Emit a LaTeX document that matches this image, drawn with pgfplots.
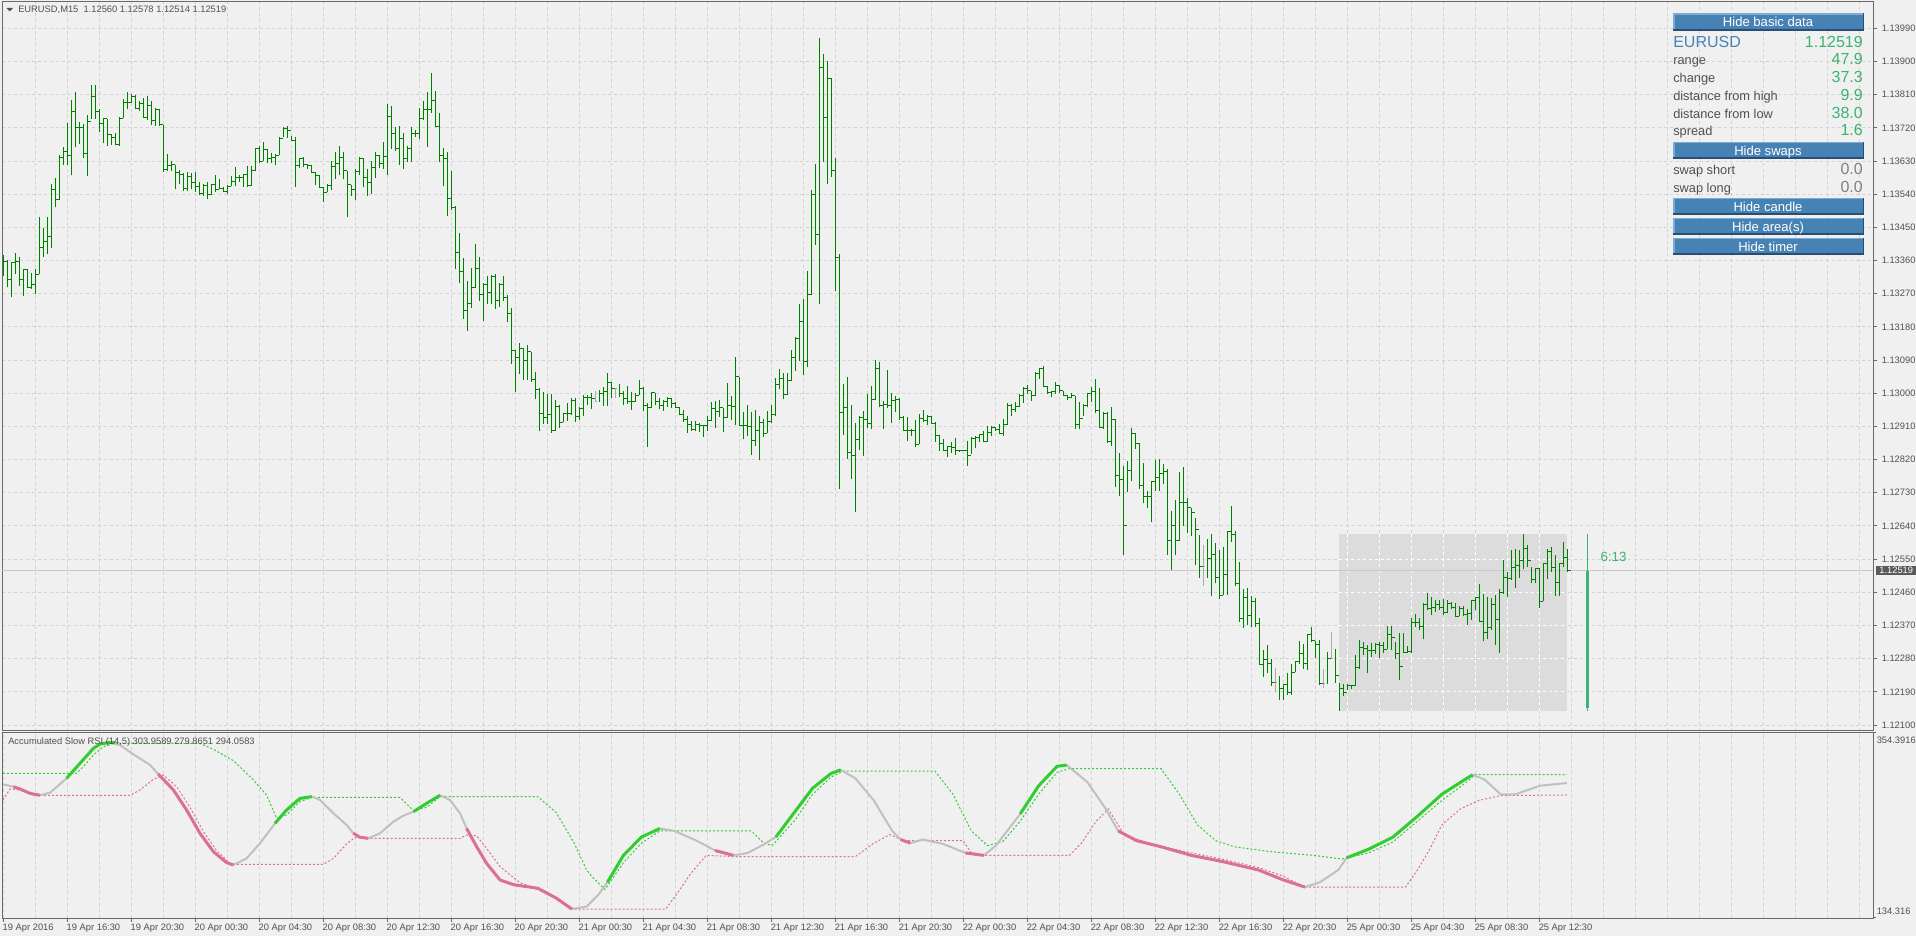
\documentclass[border=0pt]{standalone}
\usepackage{fontspec}
\setmainfont{Liberation Sans}
\usepackage{pgfplots}
\usepackage{pgfplotstable}
\pgfplotsset{compat=1.18}

\definecolor{bg}{RGB}{240,240,240}
\definecolor{gridc}{RGB}{210,210,210}
\definecolor{framec}{RGB}{105,105,105}
\definecolor{barc}{RGB}{0,128,0}
\definecolor{dojic}{RGB}{170,170,170}
\definecolor{txt}{RGB}{80,80,80}
\definecolor{upc}{RGB}{50,205,50}
\definecolor{dnc}{RGB}{219,112,147}
\definecolor{flatc}{RGB}{192,192,192}
\definecolor{btnc}{RGB}{70,130,180}
\definecolor{btnlt}{RGB}{125,170,215}
\definecolor{btndk}{RGB}{40,78,115}
\definecolor{valc}{RGB}{60,179,113}
\definecolor{areac}{RGB}{220,220,220}
\definecolor{pricel}{RGB}{200,200,200}
\definecolor{tagc}{RGB}{90,90,90}

\newcommand\lbl{\fontsize{7}{8.4}\selectfont}
\pgfdeclareplotmark{rtick}{\pgfpathmoveto{\pgfpointorigin}\pgfpathlineto{\pgfpoint{1.4pt}{0pt}}\pgfusepathqstroke}
\pgfdeclareplotmark{ltick}{\pgfpathmoveto{\pgfpointorigin}\pgfpathlineto{\pgfpoint{-1.4pt}{0pt}}\pgfusepathqstroke}

% EURUSD M15 bars: index, high, low, close
\pgfplotstableread{
i h l c
0 1.13374 1.13319 1.13357
1 1.13362 1.13287 1.13308
2 1.13354 1.13262 1.13354
3 1.13381 1.13324 1.13358
4 1.13369 1.13292 1.13308
5 1.13335 1.13265 1.13335
6 1.13338 1.13285 1.13288
7 1.13327 1.13283 1.13295
8 1.13338 1.13270 1.13323
9 1.13479 1.13323 1.13396
10 1.13449 1.13369 1.13412
11 1.13479 1.13377 1.13426
12 1.13568 1.13395 1.13554
13 1.13584 1.13504 1.13526
14 1.13647 1.13523 1.13639
15 1.13668 1.13620 1.13656
16 1.13734 1.13620 1.13646
17 1.13796 1.13591 1.13765
18 1.13817 1.13668 1.13720
19 1.13737 1.13677 1.13721
20 1.13731 1.13639 1.13651
21 1.13756 1.13588 1.13737
22 1.13835 1.13744 1.13806
23 1.13837 1.13744 1.13765
24 1.13770 1.13710 1.13733
25 1.13747 1.13679 1.13744
26 1.13744 1.13670 1.13701
27 1.13704 1.13674 1.13694
28 1.13706 1.13673 1.13675
29 1.13749 1.13672 1.13746
30 1.13799 1.13746 1.13788
31 1.13817 1.13771 1.13790
32 1.13812 1.13788 1.13806
33 1.13808 1.13771 1.13773
34 1.13794 1.13767 1.13785
35 1.13800 1.13746 1.13749
36 1.13806 1.13742 1.13780
37 1.13793 1.13728 1.13740
38 1.13773 1.13726 1.13770
39 1.13771 1.13726 1.13728
40 1.13728 1.13600 1.13607
41 1.13649 1.13604 1.13618
42 1.13631 1.13604 1.13621
43 1.13620 1.13553 1.13598
44 1.13606 1.13568 1.13594
45 1.13598 1.13550 1.13556
46 1.13600 1.13550 1.13589
47 1.13598 1.13553 1.13571
48 1.13600 1.13547 1.13560
49 1.13574 1.13537 1.13541
50 1.13568 1.13534 1.13564
51 1.13573 1.13526 1.13539
52 1.13569 1.13537 1.13565
53 1.13592 1.13547 1.13554
54 1.13582 1.13553 1.13556
55 1.13559 1.13545 1.13548
56 1.13564 1.13540 1.13562
57 1.13589 1.13561 1.13574
58 1.13613 1.13562 1.13586
59 1.13591 1.13574 1.13584
60 1.13594 1.13560 1.13594
61 1.13616 1.13560 1.13564
62 1.13616 1.13561 1.13603
63 1.13665 1.13603 1.13665
64 1.13670 1.13625 1.13630
65 1.13681 1.13630 1.13660
66 1.13663 1.13625 1.13636
67 1.13651 1.13625 1.13639
68 1.13649 1.13618 1.13645
69 1.13694 1.13645 1.13692
70 1.13722 1.13694 1.13717
71 1.13726 1.13692 1.13713
72 1.13697 1.13686 1.13687
73 1.13696 1.13559 1.13618
74 1.13638 1.13611 1.13636
75 1.13642 1.13613 1.13620
76 1.13622 1.13609 1.13618
77 1.13620 1.13600 1.13600
78 1.13600 1.13566 1.13591
79 1.13592 1.13559 1.13559
80 1.13560 1.13520 1.13545
81 1.13569 1.13545 1.13564
82 1.13629 1.13552 1.13615
83 1.13654 1.13582 1.13624
84 1.13670 1.13591 1.13639
85 1.13654 1.13580 1.13604
86 1.13602 1.13477 1.13565
87 1.13565 1.13535 1.13552
88 1.13609 1.13523 1.13602
89 1.13642 1.13591 1.13636
90 1.13639 1.13559 1.13586
91 1.13609 1.13535 1.13573
92 1.13631 1.13541 1.13612
93 1.13654 1.13583 1.13645
94 1.13645 1.13612 1.13622
95 1.13681 1.13609 1.13642
96 1.13785 1.13592 1.13752
97 1.13779 1.13663 1.13704
98 1.13722 1.13658 1.13663
99 1.13726 1.13620 1.13690
100 1.13706 1.13607 1.13636
101 1.13672 1.13627 1.13665
102 1.13722 1.13627 1.13705
103 1.13713 1.13696 1.13704
104 1.13773 1.13690 1.13746
105 1.13792 1.13742 1.13770
106 1.13818 1.13669 1.13771
107 1.13869 1.13761 1.13794
108 1.13819 1.13722 1.13724
109 1.13761 1.13627 1.13645
110 1.13666 1.13561 1.13638
111 1.13654 1.13480 1.13527
112 1.13604 1.13496 1.13505
113 1.13509 1.13336 1.13381
114 1.13434 1.13298 1.13330
115 1.13366 1.13202 1.13224
116 1.13305 1.13169 1.13243
117 1.13339 1.13230 1.13286
118 1.13404 1.13286 1.13339
119 1.13369 1.13250 1.13267
120 1.13298 1.13196 1.13294
121 1.13319 1.13242 1.13273
122 1.13321 1.13242 1.13318
123 1.13323 1.13229 1.13251
124 1.13300 1.13234 1.13294
125 1.13319 1.13250 1.13261
126 1.13267 1.13192 1.13215
127 1.13230 1.13079 1.13116
128 1.13117 1.13004 1.13097
129 1.13135 1.13052 1.13122
130 1.13122 1.13036 1.13090
131 1.13131 1.13036 1.13113
132 1.13113 1.13030 1.13038
133 1.13057 1.12985 1.13011
134 1.13013 1.12898 1.12945
135 1.13004 1.12917 1.12935
136 1.12997 1.12917 1.12943
137 1.12997 1.12893 1.12899
138 1.12981 1.12898 1.12965
139 1.12968 1.12905 1.12920
140 1.12945 1.12923 1.12944
141 1.12973 1.12925 1.12946
142 1.12986 1.12941 1.12979
143 1.12986 1.12923 1.12936
144 1.12964 1.12928 1.12959
145 1.12994 1.12938 1.12988
146 1.12995 1.12968 1.12988
147 1.13000 1.12956 1.12986
149 1.13010 1.12977 1.13000
150 1.13016 1.12966 1.13004
151 1.13054 1.12966 1.13029
152 1.13030 1.12988 1.13012
154 1.13026 1.12989 1.13000
155 1.13006 1.12968 1.12986
156 1.13021 1.12970 1.12977
157 1.13004 1.12955 1.12977
158 1.13002 1.12977 1.12994
159 1.13035 1.12994 1.13013
160 1.13018 1.12953 1.12966
161 1.12973 1.12854 1.12961
162 1.13003 1.12961 1.13003
163 1.13002 1.12968 1.12977
164 1.12988 1.12957 1.12968
165 1.12982 1.12953 1.12977
166 1.12991 1.12964 1.12986
167 1.12988 1.12961 1.12973
168 1.12977 1.12961 1.12962
169 1.12964 1.12941 1.12943
170 1.12955 1.12921 1.12928
171 1.12937 1.12893 1.12914
172 1.12926 1.12898 1.12903
173 1.12925 1.12898 1.12916
174 1.12919 1.12896 1.12912
175 1.12914 1.12882 1.12912
176 1.12939 1.12898 1.12925
177 1.12975 1.12925 1.12959
178 1.12980 1.12907 1.12950
179 1.12982 1.12936 1.12961
180 1.12961 1.12896 1.12935
181 1.13027 1.12932 1.12968
182 1.12993 1.12928 1.12964
183 1.13097 1.12914 1.13045
184 1.13045 1.12912 1.12912
185 1.12950 1.12876 1.12912
186 1.12968 1.12885 1.12911
187 1.12950 1.12833 1.12873
188 1.12954 1.12858 1.12899
189 1.12937 1.12819 1.12920
190 1.12929 1.12880 1.12891
191 1.12953 1.12891 1.12923
192 1.12968 1.12920 1.12941
193 1.13041 1.12938 1.13025
194 1.13065 1.13011 1.13039
195 1.13056 1.12985 1.12997
196 1.13056 1.12995 1.13034
197 1.13118 1.13033 1.13097
198 1.13152 1.13061 1.13149
199 1.13241 1.13088 1.13196
200 1.13255 1.13050 1.13086
201 1.13331 1.13070 1.13269
202 1.13551 1.13267 1.13538
203 1.13622 1.13403 1.13430
204 1.13963 1.13242 1.13884
205 1.13920 1.13628 1.13748
206 1.13900 1.13567 1.13854
207 1.13854 1.13587 1.13604
208 1.13638 1.13278 1.13367
209 1.13379 1.12740 1.12948
210 1.13025 1.12888 1.12960
211 1.13043 1.12822 1.12838
212 1.12968 1.12767 1.12832
213 1.12919 1.12678 1.12874
214 1.12937 1.12847 1.12935
215 1.12951 1.12831 1.12930
216 1.12998 1.12907 1.12918
217 1.13020 1.12903 1.12984
218 1.13090 1.12983 1.13068
219 1.13084 1.12962 1.12966
220 1.12980 1.12903 1.12969
221 1.13063 1.12959 1.12966
222 1.13002 1.12919 1.12980
223 1.12992 1.12950 1.12982
224 1.12986 1.12928 1.12935
225 1.12937 1.12898 1.12900
226 1.12936 1.12871 1.12898
227 1.12903 1.12885 1.12900
228 1.12928 1.12853 1.12862
229 1.12944 1.12862 1.12932
230 1.12954 1.12921 1.12927
231 1.12941 1.12915 1.12936
232 1.12939 1.12919 1.12919
233 1.12921 1.12869 1.12885
234 1.12887 1.12844 1.12865
235 1.12876 1.12844 1.12844
236 1.12858 1.12828 1.12856
237 1.12867 1.12838 1.12853
238 1.12878 1.12833 1.12844
239 1.12847 1.12841 1.12846
240 1.12847 1.12842 1.12844
241 1.12871 1.12802 1.12832
242 1.12880 1.12835 1.12878
243 1.12885 1.12851 1.12880
244 1.12889 1.12869 1.12887
245 1.12898 1.12867 1.12869
246 1.12910 1.12869 1.12894
247 1.12910 1.12883 1.12907
248 1.12909 1.12897 1.12903
249 1.12916 1.12892 1.12892
250 1.12930 1.12883 1.12916
251 1.12973 1.12915 1.12966
252 1.12971 1.12937 1.12957
253 1.12977 1.12950 1.12964
254 1.12998 1.12962 1.12995
255 1.13018 1.12973 1.13014
256 1.13022 1.12998 1.13007
257 1.13007 1.12980 1.12993
258 1.13058 1.12993 1.13054
259 1.13068 1.13039 1.13068
260 1.13073 1.13016 1.13019
261 1.13019 1.12998 1.13002
262 1.13007 1.12989 1.13004
263 1.13030 1.12998 1.13020
264 1.13022 1.13002 1.13007
265 1.13007 1.12993 1.12995
266 1.12995 1.12983 1.12989
267 1.13001 1.12986 1.12993
268 1.12993 1.12903 1.12914
269 1.12975 1.12903 1.12932
270 1.12971 1.12937 1.12966
271 1.13002 1.12964 1.13000
272 1.13016 1.12977 1.13005
273 1.13040 1.12946 1.12954
274 1.13013 1.12906 1.12907
275 1.12950 1.12903 1.12945
276 1.12948 1.12864 1.12869
277 1.12962 1.12858 1.12928
278 1.12930 1.12745 1.12776
279 1.12838 1.12722 1.12767
280 1.12804 1.12560 1.12640
281 1.12815 1.12731 1.12790
282 1.12907 1.12761 1.12892
283 1.12892 1.12849 1.12864
284 1.12864 1.12740 1.12751
285 1.12811 1.12702 1.12720
286 1.12736 1.12690 1.12720
287 1.12763 1.12650 1.12761
288 1.12820 1.12736 1.12772
289 1.12822 1.12736 1.12781
290 1.12808 1.12754 1.12787
291 1.12794 1.12560 1.12600
292 1.12680 1.12520 1.12640
293 1.12711 1.12560 1.12600
294 1.12787 1.12600 1.12703
295 1.12799 1.12640 1.12703
296 1.12717 1.12620 1.12690
297 1.12689 1.12614 1.12676
298 1.12661 1.12535 1.12630
299 1.12616 1.12499 1.12530
301 1.12605 1.12499 1.12551
302 1.12619 1.12449 1.12562
303 1.12594 1.12485 1.12501
304 1.12575 1.12441 1.12451
305 1.12584 1.12454 1.12507
306 1.12626 1.12454 1.12626
307 1.12693 1.12596 1.12617
308 1.12626 1.12478 1.12485
309 1.12542 1.12379 1.12388
310 1.12469 1.12363 1.12445
311 1.12471 1.12370 1.12397
312 1.12451 1.12365 1.12435
313 1.12445 1.12365 1.12375
314 1.12391 1.12264 1.12264
315 1.12304 1.12230 1.12278
316 1.12318 1.12242 1.12266
317 1.12280 1.12207 1.12216
319 1.12234 1.12169 1.12198
320 1.12212 1.12169 1.12209
321 1.12242 1.12182 1.12187
322 1.12266 1.12182 1.12243
323 1.12275 1.12243 1.12272
324 1.12329 1.12266 1.12295
325 1.12320 1.12252 1.12268
326 1.12347 1.12248 1.12345
327 1.12365 1.12325 1.12329
328 1.12329 1.12282 1.12318
329 1.12331 1.12209 1.12212
331 1.12298 1.12212 1.12281
333 1.12307 1.12214 1.12234
334 1.12214 1.12139 1.12200
335 1.12212 1.12180 1.12189
336 1.12212 1.12194 1.12207
337 1.12209 1.12198 1.12207
338 1.12289 1.12207 1.12257
339 1.12331 1.12251 1.12309
340 1.12325 1.12289 1.12307
341 1.12316 1.12242 1.12302
342 1.12322 1.12284 1.12302
343 1.12323 1.12293 1.12318
344 1.12325 1.12282 1.12316
345 1.12325 1.12295 1.12304
346 1.12368 1.12305 1.12345
347 1.12368 1.12304 1.12338
348 1.12325 1.12280 1.12293
349 1.12350 1.12221 1.12260
350 1.12350 1.12296 1.12298
351 1.12313 1.12296 1.12299
352 1.12391 1.12296 1.12379
353 1.12402 1.12367 1.12379
354 1.12391 1.12359 1.12368
355 1.12431 1.12332 1.12426
356 1.12459 1.12411 1.12415
357 1.12447 1.12399 1.12420
358 1.12440 1.12406 1.12427
359 1.12438 1.12413 1.12420
360 1.12441 1.12399 1.12404
361 1.12438 1.12404 1.12429
362 1.12435 1.12415 1.12419
363 1.12431 1.12395 1.12395
364 1.12422 1.12395 1.12415
365 1.12422 1.12395 1.12399
366 1.12415 1.12370 1.12402
367 1.12438 1.12385 1.12438
368 1.12447 1.12413 1.12445
369 1.12483 1.12382 1.12382
370 1.12456 1.12328 1.12350
371 1.12447 1.12332 1.12365
372 1.12445 1.12359 1.12428
373 1.12453 1.12318 1.12386
374 1.12469 1.12296 1.12459
375 1.12548 1.12456 1.12501
376 1.12515 1.12447 1.12497
377 1.12576 1.12494 1.12528
378 1.12578 1.12472 1.12533
379 1.12576 1.12499 1.12546
380 1.12619 1.12524 1.12580
381 1.12587 1.12528 1.12546
382 1.12528 1.12486 1.12495
383 1.12525 1.12485 1.12524
384 1.12525 1.12418 1.12436
385 1.12540 1.12436 1.12539
386 1.12578 1.12497 1.12571
387 1.12582 1.12515 1.12526
388 1.12560 1.12451 1.12486
389 1.12539 1.12450 1.12537
390 1.12596 1.12528 1.12555
391 1.12578 1.12514 1.12519
}\bars

% bars drawn in the doji colour
\pgfplotstableread{
i h l c
148 1.13006 1.12976 1.12977
153 1.13015 1.12988 1.13013
300 1.12589 1.12478 1.12530
318 1.12254 1.12189 1.12216
330 1.12252 1.12201 1.12212
332 1.12352 1.12278 1.12281
}\dojis

\newcommand\btn[3]{%
  \fill[btndk] (1673,#1) rectangle (1864,#2);
  \fill[btnlt] (1673,#1) rectangle (1862.5,{#2-1.5});
  \fill[btnc] (1674.5,{#1+1.5}) rectangle (1862.5,{#2-1.8});
  \node[text=white, font=\fontsize{9.8}{11}\selectfont, text height=0.72em, text depth=0pt, inner sep=0pt] at (1768,{(#1+#2)/2}) {#3};}
\newcommand\row[4]{%
  \node[anchor=west, inner sep=0pt, text=txt, font=\fontsize{9.6}{11}\selectfont, text height=0.72em, text depth=0pt] at (1673,#1) {#2};
  \node[anchor=east, inner sep=0pt, text=#4, font=\fontsize{12}{14}\selectfont, text height=0.72em, text depth=0pt] at (1863,#1) {#3};}

\begin{document}
\begin{tikzpicture}
\fill[bg] (0,0) rectangle (1437pt,702pt);

% ---------------- price panel ----------------
\begin{axis}[
  at={(1.5pt,154.125pt)}, anchor=south west,
  scale only axis, width=1403.25pt, height=546.375pt,
  xmin=-0.25, xmax=467.5, ymin=1.120851, ymax=1.140614,
  clip mode=individual,
  axis line style={framec, line width=0.75pt},
  xtick={8,16,...,464}, xticklabels={}, x tick style={draw=none},
  ytick={1.121,1.1219,1.1228,1.1237,1.1246,1.1255,1.1264,1.1273,1.1282,1.1291,1.13,1.1309,1.1318,1.1327,1.1336,1.1345,1.1354,1.1363,1.1372,1.1381,1.139,1.1399},
  yticklabels={1.12100,1.12190,1.12280,1.12370,1.12460,1.12550,1.12640,1.12730,1.12820,1.12910,1.13000,1.13090,1.13180,1.13270,1.13360,1.13450,1.13540,1.13630,1.13720,1.13810,1.13900,1.13990},
  ytick pos=right, yticklabel pos=right,
  y tick style={framec, line width=0.75pt}, tick align=outside, major tick length=3pt,
  yticklabel style={font=\lbl, text=txt},
  grid=major, major grid style={gridc, line width=0.75pt, dash pattern=on 2.25pt off 2.25pt},
]
\addplot[areac, fill=areac, draw=none] coordinates {(333.9,1.12139) (390.9,1.12139) (390.9,1.12618) (333.9,1.12618)} -- cycle;
\pgfplotsinvokeforeach{336,344,352,360,368,376,384}{
  \draw[white, line width=0.75pt, dash pattern=on 2.25pt off 2.25pt] (axis cs:#1,1.12139) -- (axis cs:#1,1.12618);}
\pgfplotsinvokeforeach{1.1219,1.1228,1.1237,1.1246,1.1255}{
  \draw[white, line width=0.75pt, dash pattern=on 2.25pt off 2.25pt] (axis cs:333.9,#1) -- (axis cs:390.9,#1);}
\addplot[pricel, line width=0.75pt] coordinates {(-0.25,1.12519) (467.5,1.12519)};

\addplot[barc, line width=0.75pt, quiver={u=0, v=\thisrow{h}-\thisrow{l}}] table[x=i, y=l] {\bars};
\addplot[barc, only marks, mark=rtick, mark options={line width=0.75pt}] table[x=i, y=c] {\bars};
\addplot[barc, only marks, mark=ltick, mark options={line width=0.75pt}] table[x expr=\thisrow{i}+1, y=c] {\bars};
\addplot[dojic, line width=0.75pt, quiver={u=0, v=\thisrow{h}-\thisrow{l}}] table[x=i, y=l] {\dojis};
\addplot[dojic, only marks, mark=rtick, mark options={line width=0.75pt}] table[x=i, y=c] {\dojis};

% current day candle
\addplot[fill=valc, draw=none] coordinates {(395.75,1.12146) (396.55,1.12146) (396.55,1.12519) (395.75,1.12519)} -- cycle;
\addplot[valc, line width=0.75pt] coordinates {(396.1,1.12139) (396.1,1.12618)};

\node[anchor=west, text=valc, font=\fontsize{10}{12}\selectfont, inner sep=0pt] at (axis cs:399.3,1.12556) {6:13};
\node[anchor=west, fill=tagc, text=white, font=\lbl, inner sep=0pt, minimum width=30.75pt, minimum height=6.9pt] at (axis cs:468.1,1.12519) {1.12519};
\end{axis}

% ---------------- indicator panel ----------------
\begin{axis}[
  at={(1.5pt,13.5pt)}, anchor=south west,
  scale only axis, width=1403.25pt, height=139.5pt,
  xmin=-0.25, xmax=467.5, ymin=134.316, ymax=354.3916,
  clip mode=individual,
  axis line style={framec, line width=0.75pt},
  ytick=\empty,
  xtick={0,16,...,384},
  xticklabels={19 Apr 2016,19 Apr 16:30,19 Apr 20:30,20 Apr 00:30,20 Apr 04:30,20 Apr 08:30,20 Apr 12:30,20 Apr 16:30,20 Apr 20:30,21 Apr 00:30,21 Apr 04:30,21 Apr 08:30,21 Apr 12:30,21 Apr 16:30,21 Apr 20:30,22 Apr 00:30,22 Apr 04:30,22 Apr 08:30,22 Apr 12:30,22 Apr 16:30,22 Apr 20:30,25 Apr 00:30,25 Apr 04:30,25 Apr 08:30,25 Apr 12:30},
  minor xtick={8,24,40,56,72,88,104,120,136,152,168,184,200,216,232,248,264,280,296,312,328,344,360,376,392,400,408,416,424,432,440,448,456,464},
  xtick pos=left, tick align=outside, major tick length=3pt, minor tick length=0pt,
  x tick style={framec, line width=0.75pt},
  xticklabel style={font=\lbl, text=txt, anchor=north west, inner sep=0pt, xshift=-0.4pt, yshift=-1.5pt},
  xmajorgrids, xminorgrids,
  major grid style={gridc, line width=0.75pt, dash pattern=on 2.25pt off 2.25pt},
  minor grid style={gridc, line width=0.75pt, dash pattern=on 2.25pt off 2.25pt},
]
\addplot[dnc, line width=0.75pt, dash pattern=on 1.5pt off 1.5pt] coordinates {
(0,273.9)(1.75,287)(4.25,285.8)(7.6,279.9)(9.25,279.5)(31.75,279.5)(34.25,285.8)(37.6,298.4)(40.1,303.5)(43.4,289.7)(46.75,265.3)(50.1,236.5)(53.4,214)(56.75,199)(58,197.8)(80.1,197.8)(82.6,204.9)(85.9,221.9)(88,229.8)(90.1,228.6)(114.25,228.6)(115.9,232.5)(118.4,231.7)(120.9,216.7)(124.25,195.1)(129.1,176.6)(135.2,165)(139.8,153.5)(142.8,144.9)(165.7,144.9)(168.8,165)(171.9,186.7)(175.8,208.4)(182.6,207)(213.1,207)(217.7,222.9)(221.7,233)(225.3,225.8)(240,225.8)(242,212)(245.2,208.4)(266.6,208.4)(269.6,222.9)(273.3,248.9)(276.3,263.3)(280.3,232.9)(286.4,222.9)(295.6,212.8)(304.8,204.1)(313.9,194)(320,183.9)(325.5,170.8)(350.6,170.8)(353.6,191.1)(356.7,215.7)(359.7,244.5)(364.3,263.3)(368.9,273.4)(374.4,279.2)(391,279.87)};
\addplot[upc, line width=0.75pt, dash pattern=on 1.5pt off 1.5pt] coordinates {
(0,305.5)(18.4,305.5)(20.1,313.4)(22.6,327.2)(25.1,337.0)(27.6,341)(49.25,341)(52.6,333.9)(57.6,320.5)(62.6,297.6)(65.9,279.8)(68.4,252.2)(70.9,256.2)(74.25,272)(77.2,277.1)(99.25,277.1)(102.6,261.3)(105.9,265.3)(109.25,277.9)(133.7,277.9)(138.3,259)(142.8,222.9)(145.9,191.1)(147.4,182.5)(150.5,168)(155.1,199.7)(159.6,222.9)(164.2,237.3)(187.1,237.3)(190.2,222.9)(192.3,220)(197.8,248.9)(202.4,280.7)(207,301)(210,308.1)(233,308.1)(237.5,280.7)(242.1,237.3)(246.1,220)(250,225)(254.3,248.9)(258.9,280.7)(263.5,306.7)(266.6,311.1)(289.5,311.1)(294.1,280.7)(298.6,244.5)(303.2,225.8)(307.8,218.6)(317,212.8)(327.7,208.4)(334.7,204.1)(341.4,211.3)(347.5,224.3)(353.6,248.9)(359.7,273.4)(365.9,295.1)(368,303.96)(391,303.96)};
\addplot[flatc, line width=1.5pt, line join=round] coordinates {
(0,292.5)(2.6,289.7)(4.25,287.0)(6.75,281.8)(9.25,279.5)(11.75,282.6)(15.9,299.6)(19.25,317.3)(22.6,335.1)(24.25,340.2)(26.75,342.2)(29.25,339.0)(32.6,328.0)(36.75,315.4)(38.8,304.7)(42.6,285.8)(45.9,262.1)(49.25,234.5)(52.6,212.8)(55.9,199.8)(57.6,197.0)(60.9,204.9)(64.25,222.7)(68,246.3)(70.9,262.1)(74.25,275.9)(77.2,277.9)(79.25,274.0)(82.6,258.2)(85.9,244.4)(87.6,234.5)(89.25,229.8)(91.3,228.6)(94.25,234.5)(97.6,248.3)(100.1,255.4)(102.6,260.1)(105.9,270.0)(109.25,279.5)(111.75,273.9)(114.25,258.2)(115.9,240.4)(118.4,218.7)(120.9,199.0)(124.25,179.3)(127.6,173.8)(133.7,169.5)(138.3,157.9)(142.2,144.9)(145.9,147.8)(148.9,162.2)(151.1,176.6)(155.1,208.4)(159.6,230.1)(164.2,240.2)(167.9,237.3)(173.4,225.8)(178,214.2)(182.6,208.4)(186.2,211.3)(190.2,221.4)(193.2,230.1)(197.8,259)(202.4,287.9)(207,305.3)(209.4,309.6)(213.1,299.5)(217.7,273.4)(222.3,237.3)(224.4,227.2)(226.8,222.9)(229.9,227.2)(235,222)(240.6,211.3)(245.2,208.4)(248.2,219.9)(252.2,244.5)(254.3,257.5)(258.9,290.7)(263.5,313.8)(265.9,315.3)(271.1,295.1)(275.7,263.3)(278.8,237.3)(283.4,225.8)(289.5,218.6)(297.1,208.4)(304.8,201.2)(313.9,191.1)(320,179.5)(325.5,170.8)(329.2,176.6)(333.8,191.1)(335.9,205.5)(341.4,215.7)(347.5,230.1)(353.6,254.7)(359.7,280.7)(365.9,299.5)(367.4,303.8)(370.4,298.1)(374.4,280.7)(378.1,280.7)(384.2,290.8)(391,294.06)};
% rising stretches
\addplot[upc, line width=2.25pt, line join=round] coordinates {(15.9,299.6)(19.25,317.3)(22.6,335.1)(24.25,340.2)(26.75,342.2)(28,341.5)};
\addplot[upc, line width=2.25pt, line join=round] coordinates {(68,246.3)(70.9,262.1)(74.25,275.9)(77.2,277.9)};
\addplot[upc, line width=2.25pt, line join=round] coordinates {(102.6,260.1)(105.9,270.0)(109.25,279.5)};
\addplot[upc, line width=2.25pt, line join=round] coordinates {(151.1,176.6)(155.1,208.4)(159.6,230.1)(164.2,240.2)};
\addplot[upc, line width=2.25pt, line join=round] coordinates {(193.2,230.1)(197.8,259)(202.4,287.9)(207,305.3)(209.4,309.6)};
\addplot[upc, line width=2.25pt, line join=round] coordinates {(254.3,257.5)(258.9,290.7)(263.5,313.8)(265.9,315.3)};
\addplot[upc, line width=2.25pt, line join=round] coordinates {(335.9,205.5)(341.4,215.7)(347.5,230.1)(353.6,254.7)(359.7,280.7)(365.9,299.5)(367.4,303.8)};
% falling stretches
\addplot[dnc, line width=2.25pt, line join=round] coordinates {(2.6,289.7)(4.25,287.0)(6.75,281.8)(9.25,279.5)};
\addplot[dnc, line width=2.25pt, line join=round] coordinates {(38.8,304.7)(42.6,285.8)(45.9,262.1)(49.25,234.5)(52.6,212.8)(55.9,199.8)(57.6,197.0)};
\addplot[dnc, line width=2.25pt, line join=round] coordinates {(87.6,234.5)(89.25,229.8)(91.3,228.6)};
\addplot[dnc, line width=2.25pt, line join=round] coordinates {(115.9,240.4)(118.4,218.7)(120.9,199.0)(124.25,179.3)(127.6,173.8)(133.7,169.5)(138.3,157.9)(142.2,144.9)};
\addplot[dnc, line width=2.25pt, line join=round] coordinates {(178,214.2)(182.6,208.4)};
\addplot[dnc, line width=2.25pt, line join=round] coordinates {(224.4,227.2)(226.8,222.9)};
\addplot[dnc, line width=2.25pt, line join=round] coordinates {(240.6,211.3)(245.2,208.4)};
\addplot[dnc, line width=2.25pt, line join=round] coordinates {(278.8,237.3)(283.4,225.8)(289.5,218.6)(297.1,208.4)(304.8,201.2)(313.9,191.1)(320,179.5)(325.5,170.8)};
\end{axis}

% ---------------- texts and panel, in screen pixels ----------------
\begin{scope}[shift={(0pt,702pt)}, x=0.75pt, y=-0.75pt]
  \fill[txt] (6.5,8) -- (13,8) -- (9.75,11.5) -- cycle;
  \node[anchor=west, inner sep=0pt, font=\lbl, text=txt] at (18,10.3) {EURUSD,M15\ \ 1.12560 1.12578 1.12514 1.12519};
  \node[anchor=west, inner sep=0pt, font=\lbl, text=txt] at (8,741.7) {Accumulated Slow RSI (14,5) 303.9589 279.8651 294.0583};
  \draw[framec, line width=0.75pt] (1873,732.4) -- (1876,732.4) (1873,917.6) -- (1876,917.6);
  \node[anchor=west, inner sep=0pt, font=\lbl, text=txt] at (1876.5,740) {354.3916};
  \node[anchor=west, inner sep=0pt, font=\lbl, text=txt] at (1876.5,911.5) {134.316};

  \btn{13.3}{30.7}{Hide basic data}
  \node[anchor=west, inner sep=0pt, text=btnc, font=\fontsize{12}{14}\selectfont, text height=0.72em, text depth=0pt] at (1673,42.3) {EURUSD};
  \node[anchor=east, inner sep=0pt, text=valc, font=\fontsize{12}{14}\selectfont, text height=0.72em, text depth=0pt] at (1863,42.3) {1.12519};
  \row{60}{range}{47.9}{valc}
  \row{77.7}{change}{37.3}{valc}
  \row{95.7}{distance from high}{9.9}{valc}
  \row{113.3}{distance from low}{38.0}{valc}
  \row{131}{spread}{1.6}{valc}
  \btn{141.7}{159}{Hide swaps}
  \row{170}{swap short}{0.0}{gray}
  \row{187.7}{swap long}{0.0}{gray}
  \btn{197.7}{215}{Hide candle}
  \btn{217.7}{235}{Hide area(s)}
  \btn{237.7}{255}{Hide timer}
\end{scope}
\pgfresetboundingbox
\path (0,0) rectangle (1437pt,702pt);
\end{tikzpicture}
\end{document}
